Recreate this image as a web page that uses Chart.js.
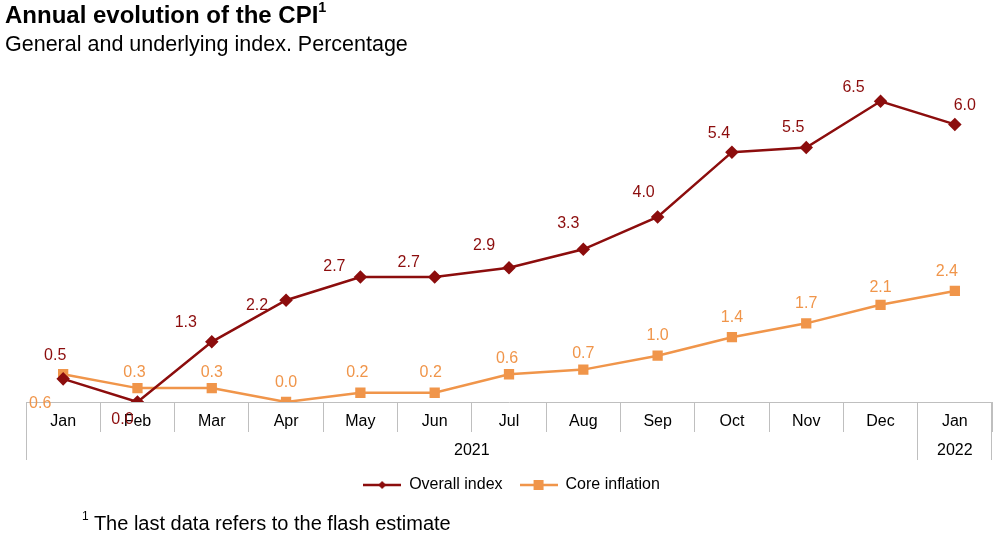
<!DOCTYPE html>
<html>
<head>
<meta charset="utf-8">
<script src="https://cdn.jsdelivr.net/npm/chart.js@4.4.1/dist/chart.umd.min.js"></script>
<style>
  body { margin: 0; background: #fff; font-family: "Liberation Sans", Arial, sans-serif; }
  #wrap { position: relative; width: 1000px; height: 541px; overflow: hidden; }
  #cpiChart { position: absolute; left: 0; top: 0; }
  .title { position: absolute; left: 5px; top: 1px; font-size: 24px; font-weight: bold; color: #000; }
  .subtitle { position: absolute; left: 5px; top: 32px; font-size: 21.5px; color: #000; }
  .note { position: absolute; left: 82px; top: 511px; font-size: 20px; color: #000; }
  sup { font-size: 60%; position: relative; top: -2px; }
</style>
</head>
<body>
<div id="wrap">
  <canvas id="cpiChart" width="1000" height="541"></canvas>
  <div class="title">Annual evolution of the CPI<sup>1</sup></div>
  <div class="subtitle">General and underlying index. Percentage</div>
  <div class="note"><sup>1</sup> The last data refers to the flash estimate</div>
</div>
<script>
// Data
const months = ["Jan", "Feb", "Mar", "Apr", "May", "Jun", "Jul", "Aug", "Sep", "Oct", "Nov", "Dec", "Jan"];
const years = ["2021", "2022"];
const yearSpans = [12, 1];
const overallIndex = [0.5, 0.0, 1.3, 2.2, 2.7, 2.7, 2.9, 3.3, 4.0, 5.4, 5.5, 6.5, 6.0];
const coreInflation = [0.6, 0.3, 0.3, 0.0, 0.2, 0.2, 0.6, 0.7, 1.0, 1.4, 1.7, 2.1, 2.4];

const RED = "#8c0d0d";
const ORANGE = "#f0954a";
const FONT = "'Liberation Sans', Arial, sans-serif";

// Label offsets (px from the point), tuned by eye
const overallOffsets = [[-8, -23], [-15, 18], [-26, -19], [-29, 5], [-26, -10], [-26, -14], [-25, -22],
  [-15, -26], [-14, -24], [-13, -19], [-13, -20], [-27, -14], [10, -19]];
const coreOffsets = [[-23, 29], [-3, -16], [0, -16], [0, -19], [-3, -20], [-4, -20], [-2, -16],
  [0, -16], [0, -20], [0, -20], [0, -20], [0, -17], [-8, -19]];

// Legend symbol: short line with the marker in the middle
function legendSymbol(color, shape) {
  const c = document.createElement("canvas");
  c.width = 38;
  c.height = 12;
  const g = c.getContext("2d");
  g.strokeStyle = color;
  g.lineWidth = 2.5;
  g.beginPath();
  g.moveTo(0, 6);
  g.lineTo(38, 6);
  g.stroke();
  g.fillStyle = color;
  if (shape === "diamond") {
    g.beginPath();
    g.moveTo(19, 2); g.lineTo(23, 6); g.lineTo(19, 10); g.lineTo(15, 6);
    g.closePath();
    g.fill();
  } else {
    g.fillRect(14, 1, 10, 10);
  }
  return c;
}

// Draw value labels next to points
const valueLabels = {
  id: "valueLabels",
  afterDatasetsDraw(chart) {
    const ctx = chart.ctx;
    const offsets = [overallOffsets, coreOffsets];
    ctx.save();
    ctx.font = "16px " + FONT;
    ctx.textAlign = "center";
    ctx.textBaseline = "middle";
    chart.data.datasets.forEach((ds, i) => {
      ctx.fillStyle = ds.borderColor;
      chart.getDatasetMeta(i).data.forEach((pt, j) => {
        const off = offsets[i][j];
        ctx.fillText(ds.data[j].toFixed(1), pt.x + off[0], pt.y + off[1]);
      });
    });
    ctx.restore();
  },
};

// Year row under the months plus the group dividers
const yearAxis = {
  id: "yearAxis",
  afterDraw(chart) {
    const ctx = chart.ctx;
    const area = chart.chartArea;
    const step = (area.right - area.left) / months.length;
    const top = area.bottom;
    ctx.save();
    ctx.strokeStyle = "#bfbfbf";
    ctx.lineWidth = 1;
    ctx.font = "16px " + FONT;
    ctx.fillStyle = "#000";
    ctx.textAlign = "center";
    ctx.textBaseline = "middle";
    let start = 0;
    const edge = (pos) => {
      ctx.beginPath();
      ctx.moveTo(pos, top);
      ctx.lineTo(pos, top + 58);
      ctx.stroke();
    };
    edge(area.left + 0.5);
    years.forEach((y, i) => {
      const end = start + yearSpans[i];
      const left = area.left + start * step;
      const right = area.left + end * step;
      ctx.fillText(y, (left + right) / 2, top + 49);
      edge(Math.round(right) - 0.5);
      start = end;
    });
    ctx.restore();
  },
};

function renderChart() {
  const ctx = document.getElementById("cpiChart").getContext("2d");

  new Chart(ctx, {
    type: "line",
    data: {
      labels: months,
      datasets: [
        {
          label: "Overall index",
          data: overallIndex,
          borderColor: RED,
          backgroundColor: RED,
          borderWidth: 2.5,
          pointStyle: "rectRot",
          pointRadius: 5,
          pointHoverRadius: 5,
          tension: 0,
        },
        {
          label: "Core inflation",
          data: coreInflation,
          borderColor: ORANGE,
          backgroundColor: ORANGE,
          borderWidth: 2.5,
          pointStyle: "rect",
          pointRadius: 5.5,
          pointHoverRadius: 5.5,
          tension: 0,
        },
      ],
    },
    options: {
      responsive: false,
      animation: false,
      layout: { padding: { left: 26, right: 3, top: 55, bottom: 38 } },
      scales: {
        x: {
          offset: true,
          border: { color: "#bfbfbf", width: 1 },
          grid: {
            offset: true,
            drawOnChartArea: false,
            drawTicks: true,
            tickLength: 30,
            color: "#bfbfbf",
          },
          ticks: {
            color: "#000",
            font: { family: FONT, size: 16 },
            padding: -20,
            maxRotation: 0,
            autoSkip: false,
          },
          afterFit(scale) {
            scale.height = 58;
          },
        },
        y: {
          display: false,
          min: 0,
          max: 7.5,
        },
      },
      plugins: {
        tooltip: { enabled: false },
        legend: {
          position: "bottom",
          labels: {
            usePointStyle: true,
            pointStyleWidth: 38,
            color: "#000",
            font: { family: FONT, size: 16 },
            padding: 17,
            generateLabels(chart) {
              return chart.data.datasets.map((ds, i) => ({
                text: ds.label,
                pointStyle: legendSymbol(ds.borderColor, i === 0 ? "diamond" : "square"),
                fillStyle: ds.borderColor,
                strokeStyle: ds.borderColor,
                lineWidth: 0,
                fontColor: "#000",
                datasetIndex: i,
                hidden: false,
              }));
            },
          },
        },
      },
    },
    plugins: [valueLabels, yearAxis],
  });
}

document.addEventListener("DOMContentLoaded", () => {
  renderChart();
});
</script>
</body>
</html>
